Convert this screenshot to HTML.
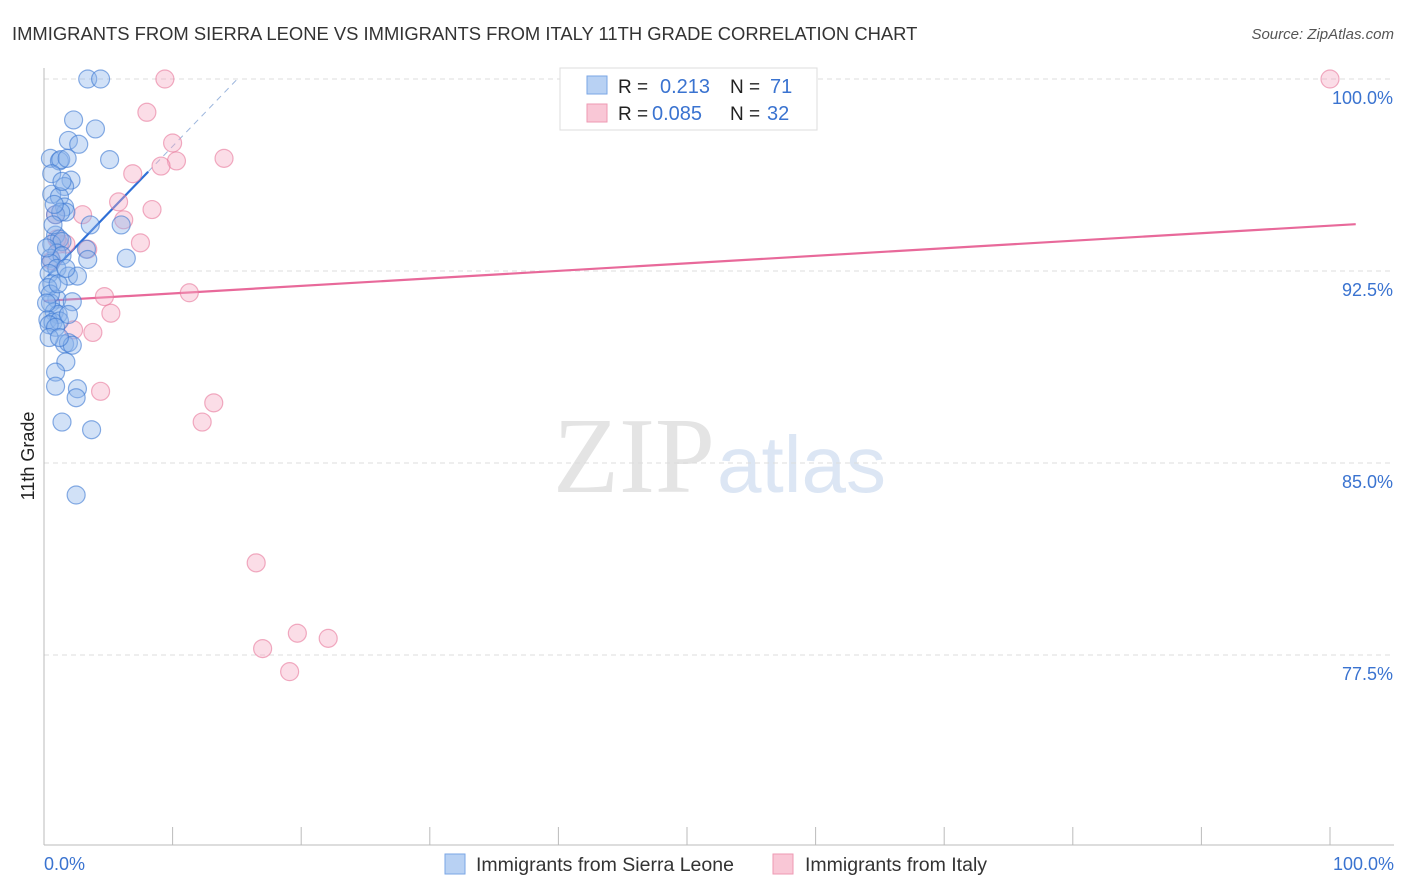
<!DOCTYPE html>
<html><head><meta charset="utf-8"><style>
body{margin:0;background:#fff;font-family:"Liberation Sans",sans-serif;}
svg{display:block}
</style></head><body>
<svg id="chart" width="1406" height="892" xmlns="http://www.w3.org/2000/svg">
<text x="12" y="40" font-size="18.4" fill="#333">IMMIGRANTS FROM SIERRA LEONE VS IMMIGRANTS FROM ITALY 11TH GRADE CORRELATION CHART</text>
<text x="1394" y="39" font-size="15" fill="#555" font-style="italic" text-anchor="end">Source: ZipAtlas.com</text>
<text x="553" y="492" font-size="108" fill="#e4e4e4" font-family="Liberation Serif,serif">ZIP</text>
<text x="717" y="492" font-size="80" fill="#dce6f4">atlas</text>
<text transform="translate(34,456) rotate(-90)" font-size="18" fill="#222" text-anchor="middle">11th Grade</text>
<g id="grid"></g><g id="axes"></g><g id="lines"></g><g id="pts"></g>
<g>
<rect x="560" y="68" width="257" height="62" fill="#fff" stroke="#ddd"/>
<rect x="587" y="76" width="20" height="18" fill="#b8d1f3" stroke="#7aa6e6"/>
<rect x="587" y="104" width="20" height="18" fill="#f9c7d6" stroke="#ee9ab3"/>
<text x="618" y="93" font-size="19" fill="#222">R = </text><text x="660" y="93" font-size="20" fill="#3a73d0">0.213</text>
<text x="730" y="93" font-size="19" fill="#222">N = </text><text x="770" y="93" font-size="20" fill="#3a73d0">71</text>
<text x="618" y="120" font-size="19" fill="#222">R = </text><text x="652" y="120" font-size="20" fill="#3a73d0">0.085</text>
<text x="730" y="120" font-size="19" fill="#222">N = </text><text x="767" y="120" font-size="20" fill="#3a73d0">32</text>
</g>
<g>
<rect x="445" y="854" width="20" height="20" fill="#b8d1f3" stroke="#7aa6e6"/>
<text x="476" y="871" font-size="19.5" fill="#333">Immigrants from Sierra Leone</text>
<rect x="773" y="854" width="20" height="20" fill="#f9c7d6" stroke="#ee9ab3"/>
<text x="805" y="871" font-size="19.5" fill="#333">Immigrants from Italy</text>
</g>
</svg>
<script>
const yTicks=[100,92.5,85,77.5];
const yTickLabels=["100.0%","92.5%","85.0%","77.5%"];
const xTickLabels=["0.0%","100.0%"];
const blueX=[3.4,4.4,2.3,4.0,1.9,2.7,0.5,1.2,1.3,1.8,5.1,0.6,2.1,1.6,0.6,1.2,1.6,1.7,0.9,1.3,3.6,6.0,0.9,1.2,0.6,1.4,3.3,1.0,0.5,1.4,3.4,6.4,0.5,1.0,0.4,1.9,2.6,0.6,0.3,1.0,2.2,0.5,0.8,1.1,0.3,0.7,1.2,0.4,0.9,1.6,1.9,2.2,0.4,1.7,0.9,0.9,2.6,2.5,1.4,3.7,2.5,0.5,1.1,1.7,0.8,0.2,1.2,1.9,0.2,0.7,1.4];
const blueY=[100,100,98.4,98.05,97.6,97.45,96.9,96.8,96.85,96.9,96.85,96.3,96.05,95.8,95.5,95.4,95.0,94.8,94.7,94.8,94.3,94.3,93.9,93.75,93.55,93.65,93.35,93.2,93.0,93.1,92.95,93.0,92.8,92.6,92.4,92.3,92.3,92.0,91.85,91.4,91.3,91.25,90.9,90.8,90.6,90.5,90.55,90.4,90.3,89.65,89.7,89.6,89.9,88.95,88.55,88.0,87.9,87.55,86.6,86.3,83.75,91.6,92.0,92.6,95.1,91.25,89.9,90.8,93.4,94.3,96.0];
const pinkX=[9.4,8.0,10.0,10.3,9.1,14.0,6.9,5.8,8.4,3.0,6.2,0.9,1.7,7.5,3.4,1.2,4.7,11.3,5.2,2.3,3.8,4.4,13.2,12.3,16.5,19.7,22.1,17.0,19.1,100,0.6,1.0];
const pinkY=[100,98.7,97.5,96.8,96.6,96.9,96.3,95.2,94.9,94.7,94.5,94.7,93.55,93.6,93.35,93.55,91.5,91.65,90.85,90.2,90.1,87.8,87.35,86.6,81.1,78.35,78.15,77.75,76.85,100,92.9,93.75];
const blueFit=[92.15,0.522];
const pinkFit=[91.33,0.0294];
const X=v=>44+v*12.86, Y=v=>79+(100-v)*25.6;
const NS="http://www.w3.org/2000/svg";
function mk(p,t,a){const e=document.createElementNS(NS,t);for(const k in a)e.setAttribute(k,a[k]);p.appendChild(e);return e;}
const grid=document.getElementById('grid'),axes=document.getElementById('axes'),lines=document.getElementById('lines'),pts=document.getElementById('pts');
yTicks.forEach((v,i)=>{
 const l=mk(grid,'line',{x1:44,x2:1394,y1:Y(v),y2:Y(v),stroke:'#ddd','stroke-dasharray':'5,4'});
 
 
 const t=mk(grid,'text',{x:1393,y:Y(v)+25,'font-size':18,fill:'#3a73d0','text-anchor':'end'});
 t.textContent=yTickLabels[i];
 
 
});
const ax=mk(axes,'line',{x1:44,x2:44,y1:68,y2:845,stroke:'#bbb'});


const bx=mk(axes,'line',{x1:44,x2:1394,y1:845,y2:845,stroke:'#bbb'});


for(let i=1;i<=10;i++){const tk=mk(axes,'line',{x1:X(i*10),x2:X(i*10),y1:827,y2:845,stroke:'#bbb'});
 
 }
[[0,'start',44],[100,'end',1394]].forEach((d,i)=>{const t=mk(axes,'text',{x:d[2],y:870,'font-size':18,fill:'#3a73d0','text-anchor':d[1]});t.textContent=xTickLabels[i];
 
 });
function dot(x,y,fill,stroke,name){const c=mk(pts,'circle',{cx:X(x),cy:Y(y),r:9,fill:fill,stroke:stroke,'stroke-width':1.2});
 
 }
pinkX.forEach((x,i)=>dot(x,pinkY[i],'rgba(246,170,195,0.4)','rgba(232,120,155,0.6)','italy-point'));
blueX.forEach((x,i)=>dot(x,blueY[i],'rgba(140,180,235,0.4)','rgba(60,120,210,0.6)','sierra-leone-point'));
const bl=mk(lines,'line',{x1:X(0.3),y1:Y(blueFit[0]+blueFit[1]*0.3),x2:X(8.1),y2:Y(blueFit[0]+blueFit[1]*8.1),stroke:'#2f6fd6','stroke-width':2.2});


const bd=mk(lines,'line',{x1:X(8.1),y1:Y(blueFit[0]+blueFit[1]*8.1),x2:X(15.1),y2:Y(blueFit[0]+blueFit[1]*15.1),stroke:'#9bb5dd','stroke-width':1,'stroke-dasharray':'6,5'});


const pl=mk(lines,'line',{x1:X(0),y1:Y(pinkFit[0]),x2:X(102),y2:Y(pinkFit[0]+pinkFit[1]*102),stroke:'#e8699a','stroke-width':2.2});


</script>
</body></html>
